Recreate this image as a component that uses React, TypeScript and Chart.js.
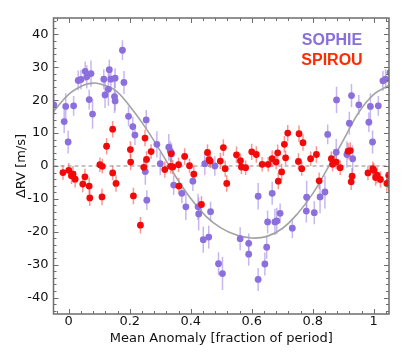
import React, { useEffect, useRef } from "react";
import { Chart, registerables } from "chart.js";

Chart.register(...registerables);

// ---------------- data ----------------
const seriesNames = ["SOPHIE", "SPIROU"];

const sophiePhase = [
  -0.049, -0.015, -0.01, -0.002, 0.016, 0.031, 0.04, 0.054, 0.059, 0.067,
  0.073, 0.078, 0.115, 0.119, 0.13, 0.133, 0.138, 0.15, 0.152, 0.152,
  0.176, 0.181, 0.196, 0.21, 0.217, 0.254, 0.251, 0.256, 0.289, 0.3,
  0.328, 0.333, 0.337, 0.344, 0.371, 0.384, 0.407, 0.424, 0.426, 0.441,
  0.446, 0.459, 0.465, 0.479, 0.491, 0.504, 0.562, 0.59, 0.59, 0.621,
  0.621, 0.643, 0.649, 0.652, 0.667, 0.676, 0.682, 0.693, 0.733, 0.779,
  0.78, 0.805, 0.824, 0.84, 0.849, 0.877, 0.878, 0.912, 0.92, 0.927,
  0.931, 0.951, 0.984, 0.989, 0.996, 1.015, 1.03, 1.039, 1.053,
];
const sophieRV = [
  18.6, 13.5, 18.1, 7.3, 18.3, 26.0, 26.3, 28.8, 27.1, 20.2,
  28.1, 15.8, 26.4, 21.6, 23.3, 29.3, 26.4, 21.1, 26.7, 19.8,
  35.2, 25.4, 15.1, 12.0, 9.4, 14.0, -1.7, -10.4, 6.6, 0.7,
  5.7, 4.5, 3.9, -5.8, -8.3, -12.4, -4.6, -12.4, -14.6, -22.4,
  0.7, -21.6, -13.9, 0.0, -29.7, -32.7, -22.1, -23.5, -26.8, -9.2,
  -34.5, -29.8, -24.7, -17.0, -8.3, -17.0, -16.7, -14.4, -18.9, -13.7,
  -9.5, -14.2, -9.4, -7.9, 9.6, 4.2, 20.1, 3.5, 13.0, 21.4,
  2.2, 18.6, 13.3, 18.1, 7.3, 18.3, 25.9, 26.4, 28.4,
];
const sophieErr = [
  3, 3.5, 4, 3.5, 3, 3, 3, 3, 3.5, 3,
  4, 4.5, 3, 4, 5, 3, 3.5, 5, 3, 3,
  3, 3.5, 3, 3, 3, 3, 4, 3, 4, 3.5,
  4, 3, 3, 3, 3, 4, 3, 4, 5, 4,
  3.5, 3.5, 3, 3, 3.5, 5, 3.5, 3, 3.5, 4,
  3.5, 3.5, 3.5, 3.5, 3.5, 4, 4, 3, 3, 3.5,
  5, 3.5, 5, 5, 3, 4, 4, 4, 3.5, 3.5,
  4, 3, 3, 4, 3.5, 3, 3, 3, 3,
];

const spirouPhase = [
  -0.019, 0.0, 0.009, 0.014, 0.021, 0.046, 0.053, 0.067, 0.069, 0.102,
  0.109, 0.11, 0.124, 0.144, 0.144, 0.155, 0.202, 0.203, 0.212, 0.235,
  0.246, 0.25, 0.255, 0.27, 0.315, 0.334, 0.336, 0.341, 0.36, 0.361,
  0.38, 0.396, 0.41, 0.435, 0.455, 0.46, 0.464, 0.497, 0.507, 0.513,
  0.518, 0.55, 0.563, 0.566, 0.58, 0.6, 0.615, 0.634, 0.654, 0.667,
  0.68, 0.685, 0.687, 0.698, 0.707, 0.711, 0.718, 0.753, 0.755, 0.764,
  0.768, 0.793, 0.812, 0.821, 0.861, 0.865, 0.877, 0.89, 0.916, 0.923,
  0.926, 0.929, 0.981, 0.997, 1.0, 1.006, 1.011, 1.022, 1.043, 1.049,
  1.049,
];
const spirouRV = [
  -2.0, -1.3, -3.0, -2.5, -4.0, -5.5, -3.3, -6.1, -9.7, 0.4,
  -9.4, -0.1, 6.0, 11.2, -2.1, -5.3, 5.0, 1.2, -9.1, -18.0,
  -0.4, 8.5, 2.0, 4.4, -1.1, -0.1, 3.7, -0.3, 0.4, -6.1,
  2.9, 0.1, -2.5, -11.7, 4.1, 1.9, 1.5, 1.5, 5.6, -0.8,
  -5.3, 3.4, 1.6, -0.3, -0.5, 4.3, 3.5, 0.5, 0.5, 2.2,
  1.2, 4.0, -4.6, -1.8, 6.6, 2.5, 10.0, 1.4, 9.8, -0.8,
  7.1, 2.2, 3.5, -4.5, 2.2, 0.5, 1.2, -0.5, 4.5, 4.7,
  -4.8, -3.1, -2.1, -0.8, -1.3, -3.5, -2.8, -4.1, -5.3, -2.8,
  -5.5,
];
const spirouErr = [
  2.2, 2.2, 2.5, 2.5, 2.5, 2.5, 2.5, 2.5, 2.5, 2.2,
  2.5, 2.2, 2.5, 2.5, 2.2, 2.5, 2.5, 2.5, 2.5, 2.5,
  2.2, 2.5, 2.5, 2.2, 2.5, 2.2, 2.5, 2.2, 2.2, 2.5,
  2.5, 2.2, 2.5, 2.5, 2.5, 2.2, 2.2, 2.5, 2.5, 2.5,
  2.5, 2.5, 2.2, 2.2, 2.2, 2.5, 2.5, 2.2, 2.2, 2.5,
  2.2, 2.5, 2.5, 2.5, 2.5, 2.2, 2.5, 2.5, 2.5, 2.2,
  2.5, 2.2, 2.5, 2.5, 2.2, 2.2, 2.2, 2.2, 2.5, 2.5,
  2.5, 2.5, 2.2, 2.2, 2.2, 2.5, 2.5, 2.5, 2.5, 2.5,
  2.5,
];

const modelPhase = [
  -0.05, 0.0, 0.05, 0.08, 0.1, 0.15, 0.2, 0.25, 0.3, 0.35, 0.4, 0.45, 0.5,
  0.55, 0.6, 0.65, 0.7, 0.75, 0.8, 0.85, 0.9, 0.95, 1.0, 1.05,
];
const modelRV = [
  16.6, 21.8, 24.6, 25.2, 25.0, 23.2, 18.2, 11.9, 4.6, -3.1, -9.9, -15.3, -18.9,
  -21.0, -21.9, -21.4, -19.0, -14.5, -8.4, -0.5, 7.8, 16.2, 21.8, 24.5,
];

const zeroPhase = [-0.05, 1.05];
const zeroRV = [0, 0];

const xTicks = [0, 0.2, 0.4, 0.6, 0.8, 1.0];
const xTickLabels = ["0", "0.2", "0.4", "0.6", "0.8", "1"];
const yTicks = [-40, -30, -20, -10, 0, 10, 20, 30, 40];
const yTickLabels = ["-40", "-30", "-20", "-10", "0", "10", "20", "30", "40"];

const xTitle = "Mean Anomaly [fraction of period]";
const yTitle = "ΔRV [m/s]";

// ---------------- styles ----------------
const PURPLE = "#8b6fdc";
const PURPLE_BAR = "rgba(160,135,230,0.6)";
const RED = "#f20a0a";
const RED_BAR = "rgba(250,80,80,0.6)";
const SOPHIE_TEXT = "#8a6fdb";
const SPIROU_TEXT = "#ff2a00";
const FRAME = "#6e6e6e";
const FONT = "'DejaVu Sans', sans-serif";

const errorBarPlugin = {
  id: "errorBars",
  beforeDatasetsDraw(chart: any) {
    const { ctx, chartArea } = chart;
    const yScale = chart.scales.y;
    ctx.save();
    ctx.beginPath();
    ctx.rect(chartArea.left, chartArea.top, chartArea.width, chartArea.height);
    ctx.clip();
    chart.data.datasets.forEach((ds: any, i: number) => {
      if (!ds.errors) return;
      const meta = chart.getDatasetMeta(i);
      ctx.strokeStyle = ds.errorColor;
      ctx.lineWidth = 1.5;
      meta.data.forEach((pt: any, j: number) => {
        const v = ds.data[j].y;
        const e = ds.errors[j];
        ctx.beginPath();
        ctx.moveTo(pt.x, yScale.getPixelForValue(v - e));
        ctx.lineTo(pt.x, yScale.getPixelForValue(v + e));
        ctx.stroke();
      });
    });
    ctx.restore();
  },
};

const framePlugin = {
  id: "frame",
  afterDraw(chart: any) {
    const { ctx, chartArea } = chart;
    const { left, right, top, bottom } = chartArea;
    const xs = chart.scales.x;
    const ys = chart.scales.y;
    ctx.save();
    ctx.strokeStyle = FRAME;
    ctx.lineWidth = 1.5;
    ctx.strokeRect(left, top, right - left, bottom - top);
    ctx.lineWidth = 1;
    const major = 5;
    const minor = 3;
    ctx.beginPath();
    for (let k = -1; k <= 26; k++) {
      const v = k * 0.04;
      const isMajor = xTicks.some((t) => Math.abs(t - v) < 1e-6);
      const len = isMajor ? major : minor;
      const px = Math.round(xs.getPixelForValue(v)) + 0.5;
      if (px < left || px > right) continue;
      ctx.moveTo(px, bottom);
      ctx.lineTo(px, bottom - len);
      ctx.moveTo(px, top);
      ctx.lineTo(px, top + len);
    }
    for (let k = -22; k <= 22; k++) {
      const v = k * 2;
      const isMajor = yTicks.includes(v);
      const len = isMajor ? major : minor;
      const py = Math.round(ys.getPixelForValue(v)) + 0.5;
      if (py < top || py > bottom) continue;
      ctx.moveTo(left, py);
      ctx.lineTo(left + len, py);
      ctx.moveTo(right, py);
      ctx.lineTo(right - len, py);
    }
    ctx.stroke();

    // series labels
    ctx.font = "bold 16px 'Liberation Sans', Arial, sans-serif";
    ctx.textAlign = "center";
    ctx.textBaseline = "middle";
    ctx.fillStyle = SOPHIE_TEXT;
    ctx.fillText(seriesNames[0], right - 57, top + 23);
    ctx.fillStyle = SPIROU_TEXT;
    ctx.fillText(seriesNames[1], right - 57, top + 43);
    ctx.restore();
  },
};

export default function App() {
  const canvasRef = useRef<HTMLCanvasElement | null>(null);

  useEffect(() => {
    const canvas = canvasRef.current;
    if (!canvas) return;
    const chart = new Chart(canvas, {
      type: "scatter",
      data: {
        datasets: [
          {
            label: seriesNames[1],
            data: spirouPhase.map((x, i) => ({ x, y: spirouRV[i] })),
            errors: spirouErr,
            errorColor: RED_BAR,
            backgroundColor: RED,
            borderColor: RED,
            borderWidth: 0,
            pointRadius: 3.4,
            showLine: false,
          } as any,
          {
            label: seriesNames[0],
            data: sophiePhase.map((x, i) => ({ x, y: sophieRV[i] })),
            errors: sophieErr,
            errorColor: PURPLE_BAR,
            backgroundColor: PURPLE,
            borderColor: PURPLE,
            borderWidth: 0,
            pointRadius: 3.4,
            showLine: false,
          } as any,
          {
            type: "line",
            label: "model",
            data: modelPhase.map((x, i) => ({ x, y: modelRV[i] })),
            borderColor: "#a3a3a3",
            borderWidth: 1.6,
            pointRadius: 0,
            tension: 0.4,
            fill: false,
          } as any,
          {
            type: "line",
            label: "zero",
            data: zeroPhase.map((x, i) => ({ x, y: zeroRV[i] })),
            borderColor: "#8a8a8a",
            borderWidth: 1.2,
            borderDash: [4, 3],
            pointRadius: 0,
            fill: false,
          } as any,
        ],
      },
      options: {
        responsive: false,
        animation: false,
        layout: { padding: { left: 0, top: 18, right: 26, bottom: 0 } },
        plugins: {
          legend: { display: false },
          tooltip: { enabled: false },
        },
        scales: {
          x: {
            type: "linear",
            min: -0.05,
            max: 1.05,
            afterBuildTicks: (s: any) => {
              s.ticks = xTicks.map((v) => ({ value: v }));
            },
            afterFit: (s: any) => {
              s.height = 39;
            },
            grid: { display: false, drawTicks: false },
            border: { display: false },
            ticks: {
              padding: 0,
              maxRotation: 0,
              autoSkip: false,
              color: "#111",
              font: { family: FONT, size: 13 },
              callback: (_v: any, i: number) => xTickLabels[i],
            },
            title: {
              display: true,
              text: xTitle,
              color: "#111",
              font: { family: FONT, size: 13 },
              padding: { top: 0, bottom: 7 },
            },
          },
          y: {
            type: "linear",
            min: -45,
            max: 45,
            afterBuildTicks: (s: any) => {
              s.ticks = yTicks.map((v) => ({ value: v }));
            },
            afterFit: (s: any) => {
              s.width = 53.5;
            },
            grid: { display: false, drawTicks: false },
            border: { display: false },
            ticks: {
              padding: 5,
              autoSkip: false,
              color: "#111",
              font: { family: FONT, size: 13 },
              callback: (_v: any, i: number) => yTickLabels[i],
            },
            title: {
              display: true,
              text: yTitle,
              color: "#111",
              font: { family: FONT, size: 13 },
              padding: { top: 14, bottom: 0 },
            },
          },
        },
      } as any,
      plugins: [errorBarPlugin, framePlugin],
    });
    return () => chart.destroy();
  }, []);

  return (
    <div style={{ position: "fixed", left: 0, top: 0, width: 415, height: 353, background: "#fff" }}>
      <canvas ref={canvasRef} width={415} height={353} style={{ display: "block" }} />
    </div>
  );
}
